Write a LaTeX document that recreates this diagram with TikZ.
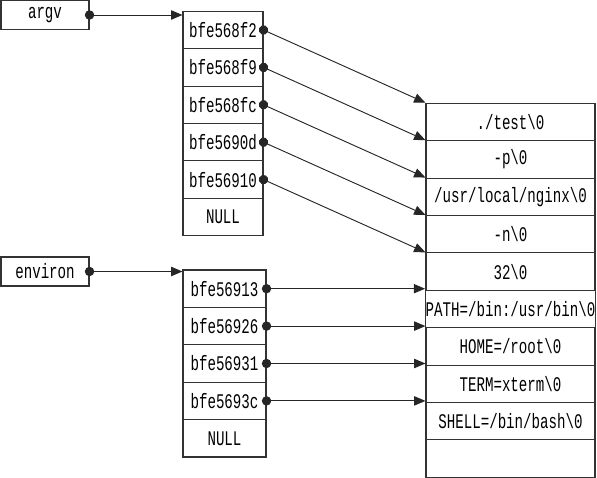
\documentclass[tikz,border=0pt]{standalone}
\usepackage{fontspec}
\setmainfont{Liberation Mono}[FakeStretch=0.68]
\usetikzlibrary{arrows.meta}

\tikzset{
  cellbox/.style={draw=black!80, line width=0.8pt, inner sep=0pt,
    minimum height=28.05pt, font=\fontsize{15.6}{18}\selectfont},
  namebox/.style={cellbox, minimum width=66pt, minimum height=21.75pt},
  ptrbox/.style={cellbox, minimum width=60pt},
  envbox/.style={cellbox, minimum width=62.25pt},
  strbox/.style={cellbox, minimum width=126.75pt},
  link/.style={black!85, line width=0.7pt, shorten <=-3.5pt,
    {Circle[length=7pt]}-{Triangle[length=8.5pt,width=7pt]}}
}

\begin{document}
\begin{tikzpicture}[x=0.75pt,y=0.75pt,yscale=-1,xscale=1]
\useasboundingbox (0,0) rectangle (597,478);
%Shape: names
\node[namebox] (argv) at (45,15) {argv};
\node[namebox] (environ) at (45,271.5) {environ};
%Shape: argv array
\node[ptrbox] (a1) at (223,30) {bfe568f2};
\node[ptrbox] (a2) at (223,67.4) {bfe568f9};
\node[ptrbox] (a3) at (223,104.8) {bfe568fc};
\node[ptrbox] (a4) at (223,142.2) {bfe5690d};
\node[ptrbox] (a5) at (223,179.6) {bfe56910};
\node[ptrbox] (a6) at (223,217) {NULL};
%Shape: environ array
\node[envbox] (e1) at (224.5,288.7) {bfe56913};
\node[envbox] (e2) at (224.5,326.1) {bfe56926};
\node[envbox] (e3) at (224.5,363.5) {bfe56931};
\node[envbox] (e4) at (224.5,400.9) {bfe5693c};
\node[envbox] (e5) at (224.5,438.3) {NULL};
%Shape: strings
\node[strbox] (s1) at (510.5,122) {./test\textbackslash 0};
\node[strbox] (s2) at (510.5,159.4) {-p\textbackslash 0};
\node[strbox] (s3) at (510.5,196.8) {/usr/local/nginx\textbackslash 0};
\node[strbox] (s4) at (510.5,234.2) {-n\textbackslash 0};
\node[strbox] (s5) at (510.5,271.6) {32\textbackslash 0};
\node[strbox] (s6) at (510.5,309) {PATH=/bin:/usr/bin\textbackslash 0};
\node[strbox] (s7) at (510.5,346.4) {HOME=/root\textbackslash 0};
\node[strbox] (s8) at (510.5,383.8) {TERM=xterm\textbackslash 0};
\node[strbox] (s9) at (510.5,421.2) {SHELL=/bin/bash\textbackslash 0};
\node[strbox] (s10) at (510.5,458.6) {};
%Straight Lines
\draw[link] (argv.east) -- (argv.east -| a1.west);
\draw[link] (environ.east) -- (environ.east -| e1.west);
\draw[link] (a1.east) -- (s1.north west);
\draw[link] (a2.east) -- (s2.north west);
\draw[link] (a3.east) -- (s3.north west);
\draw[link] (a4.east) -- (s4.north west);
\draw[link] (a5.east) -- (s5.north west);
\draw[link] (e1.east) -- (e1.east -| s6.west);
\draw[link] (e2.east) -- (e2.east -| s7.west);
\draw[link] (e3.east) -- (e3.east -| s8.west);
\draw[link] (e4.east) -- (e4.east -| s9.west);
\end{tikzpicture}
\end{document}
